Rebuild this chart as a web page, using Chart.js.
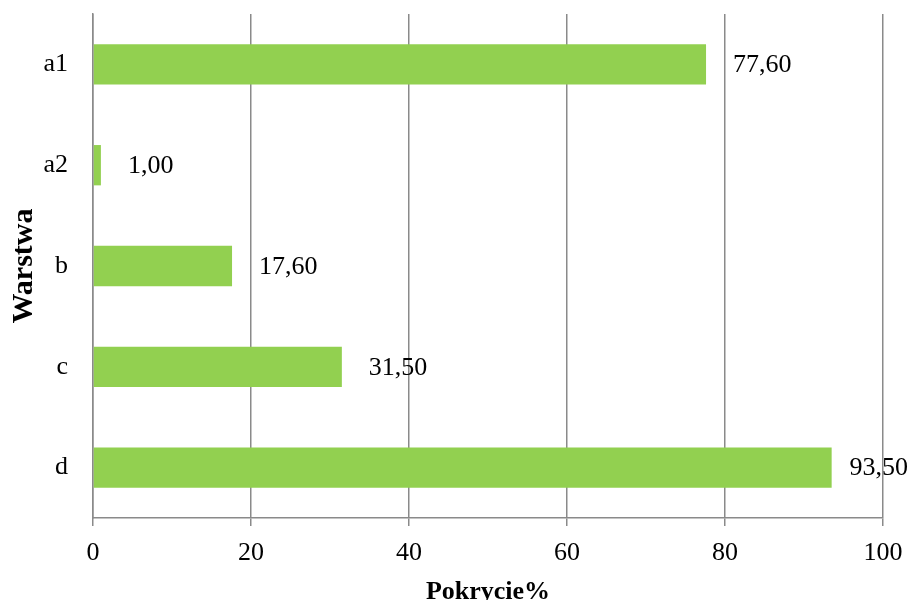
<!DOCTYPE html>
<html>
<head>
<meta charset="utf-8">
<script src="https://cdn.jsdelivr.net/npm/chart.js@4/dist/chart.umd.min.js"></script>
<style>
  html, body { margin: 0; padding: 0; background: #fff; }
  #wrap { width: 909px; height: 600px; }
</style>
</head>
<body>
<div id="wrap"><canvas id="c" width="909" height="600"></canvas></div>
<script>
const categories = ['a1', 'a2', 'b', 'c', 'd'];
const coverage = [77.60, 1.00, 17.60, 31.50, 93.50];
const xTicks = [0, 20, 40, 60, 80, 100];

const FONT = "'Liberation Serif', 'Times New Roman', serif";
const GRID = '#8a8a8a';

const valueLabels = {
  id: 'valueLabels',
  afterDatasetsDraw(chart) {
    const ctx = chart.ctx;
    const meta = chart.getDatasetMeta(0);
    ctx.save();
    ctx.font = '26px ' + FONT;
    ctx.fillStyle = '#000';
    ctx.textAlign = 'left';
    ctx.textBaseline = 'middle';
    meta.data.forEach((bar, i) => {
      const txt = coverage[i].toFixed(2).replace('.', ',');
      const w = ctx.measureText(txt).width;
      const x = Math.min(bar.x + 27, chart.width - w - 1);
      ctx.fillText(txt, x, bar.y + 1);
    });
    ctx.restore();
  }
};

new Chart(document.getElementById('c'), {
  type: 'bar',
  data: {
    labels: categories,
    datasets: [{
      data: coverage,
      backgroundColor: '#92d050',
      borderWidth: 0,
      barPercentage: 0.4,
      categoryPercentage: 1.0
    }]
  },
  plugins: [valueLabels],
  options: {
    indexAxis: 'y',
    responsive: false,
    animation: false,
    devicePixelRatio: 1,
    layout: { padding: { top: 14, right: 26, left: 0, bottom: 0 } },
    plugins: { legend: { display: false }, tooltip: { enabled: false } },
    scales: {
      x: {
        min: 0, max: 100,
        afterBuildTicks(scale) { scale.ticks = xTicks.map(v => ({ value: v })); },
        afterFit(scale) { scale.height = 82; scale.paddingLeft = 0; scale.paddingRight = 0; },
        grid: { color: GRID, lineWidth: 1.5, drawTicks: true, tickLength: 8, tickColor: GRID },
        border: { color: GRID, width: 1.5 },
        ticks: { color: '#000', font: { family: FONT, size: 26 }, padding: 12, maxRotation: 0 },
        title: {
          display: true, text: 'Pokrycie%', color: '#000',
          font: { family: FONT, size: 26, weight: 'bold' },
          padding: { top: 0, bottom: -8 }
        }
      },
      y: {
        afterFit(scale) { scale.width = 93; scale.paddingTop = 0; scale.paddingBottom = 0; },
        grid: { display: false, drawTicks: false },
        border: { display: true, color: GRID, width: 1.5 },
        ticks: { color: '#000', font: { family: FONT, size: 26 }, padding: 25 },
        title: {
          display: true, text: 'Warstwa', color: '#000',
          font: { family: FONT, size: 30, weight: 'bold' },
          padding: { top: 6, bottom: 0 }
        }
      }
    }
  }
});
</script>
</body>
</html>
